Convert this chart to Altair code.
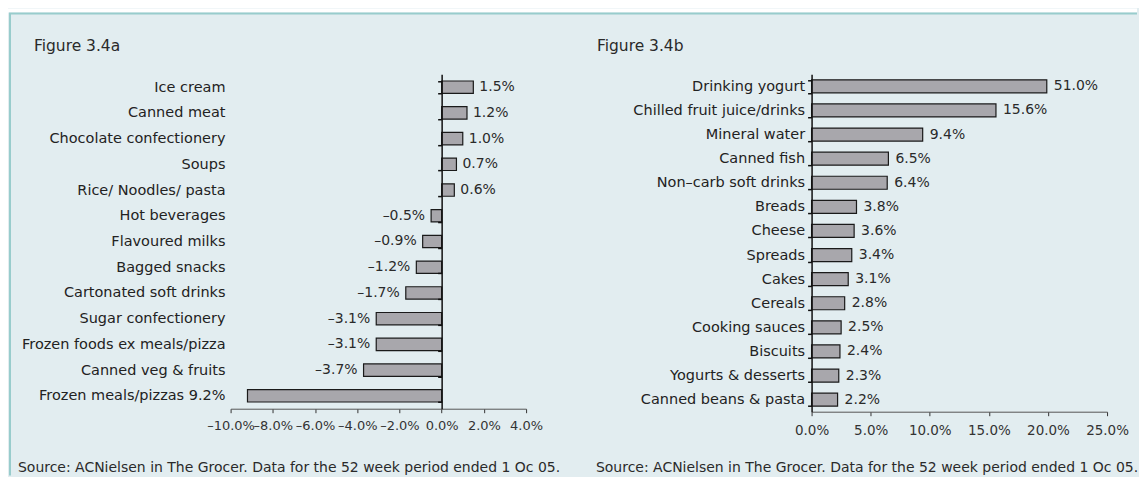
import altair as alt
import pandas as pd

# ---------------- data ----------------
a_categories = ["Ice cream", "Canned meat", "Chocolate confectionery", "Soups",
                "Rice/ Noodles/ pasta", "Hot beverages", "Flavoured milks",
                "Bagged snacks", "Cartonated soft drinks", "Sugar confectionery",
                "Frozen foods ex meals/pizza", "Canned veg & fruits",
                "Frozen meals/pizzas 9.2%"]
a_values = [1.5, 1.2, 1.0, 0.7, 0.6, -0.5, -0.9, -1.2, -1.7, -3.1, -3.1, -3.7, -9.2]
a_labels = ["1.5%", "1.2%", "1.0%", "0.7%", "0.6%", "\u20130.5%", "\u20130.9%",
            "\u20131.2%", "\u20131.7%", "\u20133.1%", "\u20133.1%", "\u20133.7%", ""]
a_ticks = [-10, -8, -6, -4, -2, 0, 2, 4]

b_categories = ["Drinking yogurt", "Chilled  fruit juice/drinks", "Mineral water",
                "Canned fish", "Non\u2013carb soft drinks", "Breads", "Cheese",
                "Spreads", "Cakes", "Cereals", "Cooking sauces", "Biscuits",
                "Yogurts & desserts", "Canned beans & pasta"]
b_values = [51.0, 15.6, 9.4, 6.5, 6.4, 3.8, 3.6, 3.4, 3.1, 2.8, 2.5, 2.4, 2.3, 2.2]
# bar lengths as drawn (the 51.0% bar is cut short at the chart's edge)
b_bar_lengths = [19.9, 15.6, 9.4, 6.5, 6.4, 3.8, 3.6, 3.4, 3.1, 2.8, 2.5, 2.4, 2.3, 2.2]
b_labels = ["51.0%", "15.6%", "9.4%", "6.5%", "6.4%", "3.8%", "3.6%", "3.4%",
            "3.1%", "2.8%", "2.5%", "2.4%", "2.3%", "2.2%"]
b_ticks = [0, 5, 10, 15, 20, 25]

title_a = "Figure 3.4a"
title_b = "Figure 3.4b"
source_text = "Source: ACNielsen in The Grocer. Data for the 52 week period ended 1 Oc 05."

# ---------------- style ----------------
FONT = "DejaVu Sans"
BG = "#e2edf0"
TEAL = "#98cccc"
BAR_FILL = "#a8a7ac"
BAR_STROKE = "#1a1a1a"
TXT = "#2a2a2a"
PW = 296
PH_A = 335
PH_B = 338

label_expr = ("replace(replace(format(datum.value, '.1f'), '\u2212', '\u2013'), '-', '\u2013') + '%'")

one = pd.DataFrame({"k": [0]})

# ---------------- panel a ----------------
da = pd.DataFrame({"cat": a_categories, "val": a_values, "lab": a_labels})

xa = alt.X("val:Q",
           scale=alt.Scale(domain=[-10, 4], nice=False),
           axis=alt.Axis(values=a_ticks, labelExpr=label_expr, tickSize=4,
                         domainColor="#555", tickColor="#333", labelColor="#333",
                         labelFont=FONT, labelFontSize=13, labelPadding=7,
                         labelOverlap=False, title=None, grid=False,
                         labelFlush=False, zindex=1))
ya = alt.Y("cat:N", sort=a_categories,
           scale=alt.Scale(paddingInner=0.52, paddingOuter=0.26),
           axis=alt.Axis(orient="left", offset=-211.4, labelPadding=213, tickSize=4,
                         tickBand="extent", domainColor="#111", domainWidth=1.5,
                         tickColor="#111", tickWidth=1.5, labelFont=FONT,
                         labelFontSize=14.5, labelColor="#222", labelLimit=0,
                         title=None, zindex=1))

base_a = alt.Chart(da)
bars_a = base_a.mark_bar(fill=BAR_FILL, stroke=BAR_STROKE, strokeWidth=1.2).encode(x=xa, y=ya)
pos_a = base_a.transform_filter("datum.val > 0").mark_text(
    align="left", baseline="middle", dx=6, font=FONT, fontSize=14, color=TXT
).encode(x="val:Q", y=alt.Y("cat:N", sort=a_categories), text="lab:N")
neg_a = base_a.transform_filter("datum.val < 0 && datum.lab != ''").mark_text(
    align="right", baseline="middle", dx=-6, font=FONT, fontSize=14, color=TXT
).encode(x="val:Q", y=alt.Y("cat:N", sort=a_categories), text="lab:N")

# frame decorations (page coords relative to panel a plot origin at 231,74)
white_top = alt.Chart(one).mark_rect(color="white").encode(
    x=alt.value(-223), x2=alt.value(908), y=alt.value(-66), y2=alt.value(-62))
top_line = alt.Chart(one).mark_rule(color=TEAL, strokeWidth=2).encode(
    x=alt.value(-222), x2=alt.value(908), y=alt.value(-61))
left_line = alt.Chart(one).mark_rule(color=TEAL, strokeWidth=2).encode(
    x=alt.value(-221), y=alt.value(-61), y2=alt.value(402))

ttl_a = alt.Chart(one).mark_text(align="left", baseline="alphabetic", font=FONT,
                                 fontSize=15.5, color=TXT).encode(
    x=alt.value(-197), y=alt.value(-23), text=alt.value(title_a))
src_a = alt.Chart(one).mark_text(align="left", baseline="alphabetic", font=FONT,
                                 fontSize=14, color=TXT).encode(
    x=alt.value(-213), y=alt.value(398), text=alt.value(source_text))

panel_a = alt.layer(white_top, top_line, left_line, bars_a, pos_a, neg_a, ttl_a, src_a
                    ).properties(width=PW, height=PH_A)

# ---------------- panel b ----------------
db = pd.DataFrame({"cat": b_categories, "len": b_bar_lengths, "lab": b_labels})

xb = alt.X("len:Q",
           scale=alt.Scale(domain=[0, 25], nice=False),
           axis=alt.Axis(values=b_ticks, labelExpr=label_expr, tickSize=4,
                         domainColor="#555", tickColor="#333", labelColor="#333",
                         labelFont=FONT, labelFontSize=13.5, labelPadding=8,
                         labelOverlap=False, title=None, grid=False,
                         labelFlush=False, zindex=1))
yb = alt.Y("cat:N", sort=b_categories,
           scale=alt.Scale(paddingInner=0.46, paddingOuter=0.23),
           axis=alt.Axis(orient="left", labelPadding=3, tickSize=4,
                         tickBand="extent", domainColor="#111", domainWidth=1.5,
                         tickColor="#111", tickWidth=1.5, labelFont=FONT,
                         labelFontSize=14.5, labelColor="#222", labelLimit=0,
                         title=None, zindex=1))

base_b = alt.Chart(db)
bars_b = base_b.mark_bar(fill=BAR_FILL, stroke=BAR_STROKE, strokeWidth=1.2).encode(x=xb, y=yb)
txt_b = base_b.mark_text(align="left", baseline="middle", dx=7, font=FONT,
                         fontSize=14, color=TXT).encode(
    x="len:Q", y=alt.Y("cat:N", sort=b_categories), text="lab:N")
ttl_b = alt.Chart(one).mark_text(align="left", baseline="alphabetic", font=FONT,
                                 fontSize=15.5, color=TXT).encode(
    x=alt.value(-215), y=alt.value(-23), text=alt.value(title_b))
src_b = alt.Chart(one).mark_text(align="left", baseline="alphabetic", font=FONT,
                                 fontSize=14, color=TXT).encode(
    x=alt.value(-216), y=alt.value(398), text=alt.value(source_text))

panel_b = alt.layer(bars_b, txt_b, ttl_b, src_b).properties(width=PW, height=PH_B)

chart = alt.hconcat(panel_a, panel_b, spacing=286, bounds="flush").configure(
    background=BG, padding=0
).configure_view(stroke=None)

chart.save("out.html", embed_options={"renderer": "svg", "actions": False})
